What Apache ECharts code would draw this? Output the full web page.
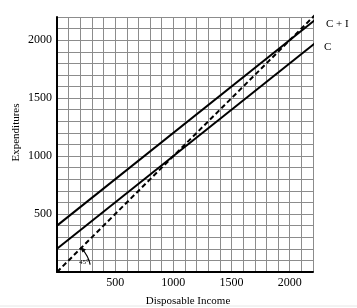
<!DOCTYPE html>
<html><head><meta charset="utf-8">
<script src="https://cdn.jsdelivr.net/npm/echarts@6/dist/echarts.min.js"></script>
<style>html,body{margin:0;padding:0;background:#fff}#c{width:357px;height:308px}</style>
</head><body><div id="c"></div>
<script>
// Data
var incomeC = [0, 2260];
var consumption = [200, 2008];
var incomeCI = [0, 2240];
var consumptionPlusInvestment = [400, 2192];
var income45 = [0, 2290];
var expenditure45 = [0, 2290];
var xTickLabels = [500, 1000, 1500, 2000];
var yTickLabels = [500, 1000, 1500, 2000];

function pairs(xs, ys){ return xs.map(function(x,i){return [x, ys[i]];}); }

var serif = 'Liberation Serif, Times New Roman, serif';
var chart = echarts.init(document.getElementById('c'), null, {renderer:'canvas'});
var option = {
  animation:false,
  grid:{left:57, top:17, right:44, bottom:36, show:false, containLabel:false, outerBoundsMode:'none'},
  xAxis:{type:'value', min:0, max:2200, interval:100,
    name:'Disposable Income', nameLocation:'middle', nameGap:24, nameMoveOverlap:false,
    nameTextStyle:{fontFamily:serif, fontSize:11, color:'#000', padding:[0,0,0,6]},
    axisLine:{show:true, lineStyle:{color:'#000', width:2}},
    axisTick:{show:false},
    splitLine:{show:true, lineStyle:{color:'#8c8c8c', width:1}},
    axisLabel:{fontFamily:serif, fontSize:12, color:'#000', margin:5,
      formatter:function(v){return xTickLabels.indexOf(v)>=0 ? String(v) : '';}}
  },
  yAxis:{type:'value', min:0, max:2200, interval:100,
    name:'Expenditures', nameLocation:'middle', nameGap:35, nameMoveOverlap:false,
    nameTextStyle:{fontFamily:serif, fontSize:11, color:'#000', padding:[0,0,0,24]},
    axisLine:{show:true, lineStyle:{color:'#000', width:2}},
    axisTick:{show:false},
    splitLine:{show:true, lineStyle:{color:'#8c8c8c', width:1}},
    axisLabel:{fontFamily:serif, fontSize:12, color:'#000', margin:5,
      formatter:function(v){return yTickLabels.indexOf(v)>=0 ? String(v) : '';}}
  },
  series:[
    {name:'C', type:'line', data:pairs(incomeC, consumption), clip:false, symbol:'none',
     lineStyle:{color:'#000', width:2},
     endLabel:{show:true, formatter:'C', fontFamily:serif, fontSize:11, color:'#000', offset:[2,3]}},
    {name:'C + I', type:'line', data:pairs(incomeCI, consumptionPlusInvestment), clip:false, symbol:'none',
     lineStyle:{color:'#000', width:2},
     endLabel:{show:true, formatter:'C + I', fontFamily:serif, fontSize:11, color:'#000', offset:[4,3]}},
    {name:'45', type:'line', data:pairs(income45, expenditure45), clip:false, symbol:'none',
     lineStyle:{color:'#000', width:2, type:[5,3]}}
  ]
};
chart.setOption(option);

var o = chart.convertToPixel({gridIndex:0}, [0,0]);
var r = 34;
var a0 = -Math.PI/4, a1 = -0.22;
var tip = [o[0]+r*Math.cos(a0), o[1]+r*Math.sin(a0)];
chart.setOption({graphic:[
  {type:'arc', shape:{cx:o[0], cy:o[1], r:r, startAngle:a0+0.06, endAngle:a1, clockwise:true},
   style:{stroke:'#000', lineWidth:1.2, fill:null}, z:100},
  {type:'polygon', shape:{points:[[tip[0]-1,tip[1]-1],[tip[0]+1.5,tip[1]+4.5],[tip[0]+5,tip[1]+1.5]]},
   style:{fill:'#000'}, z:100},
  {type:'text', x:o[0]+27, y:o[1]-10, style:{text:'45°', font:'7px '+serif, fill:'#000', textAlign:'center', textVerticalAlign:'middle'}, z:100},
  {type:'line', shape:{x1:0,y1:306,x2:357,y2:306}, style:{stroke:'#e6e6e6', lineWidth:1}}
]});
</script></body></html>
